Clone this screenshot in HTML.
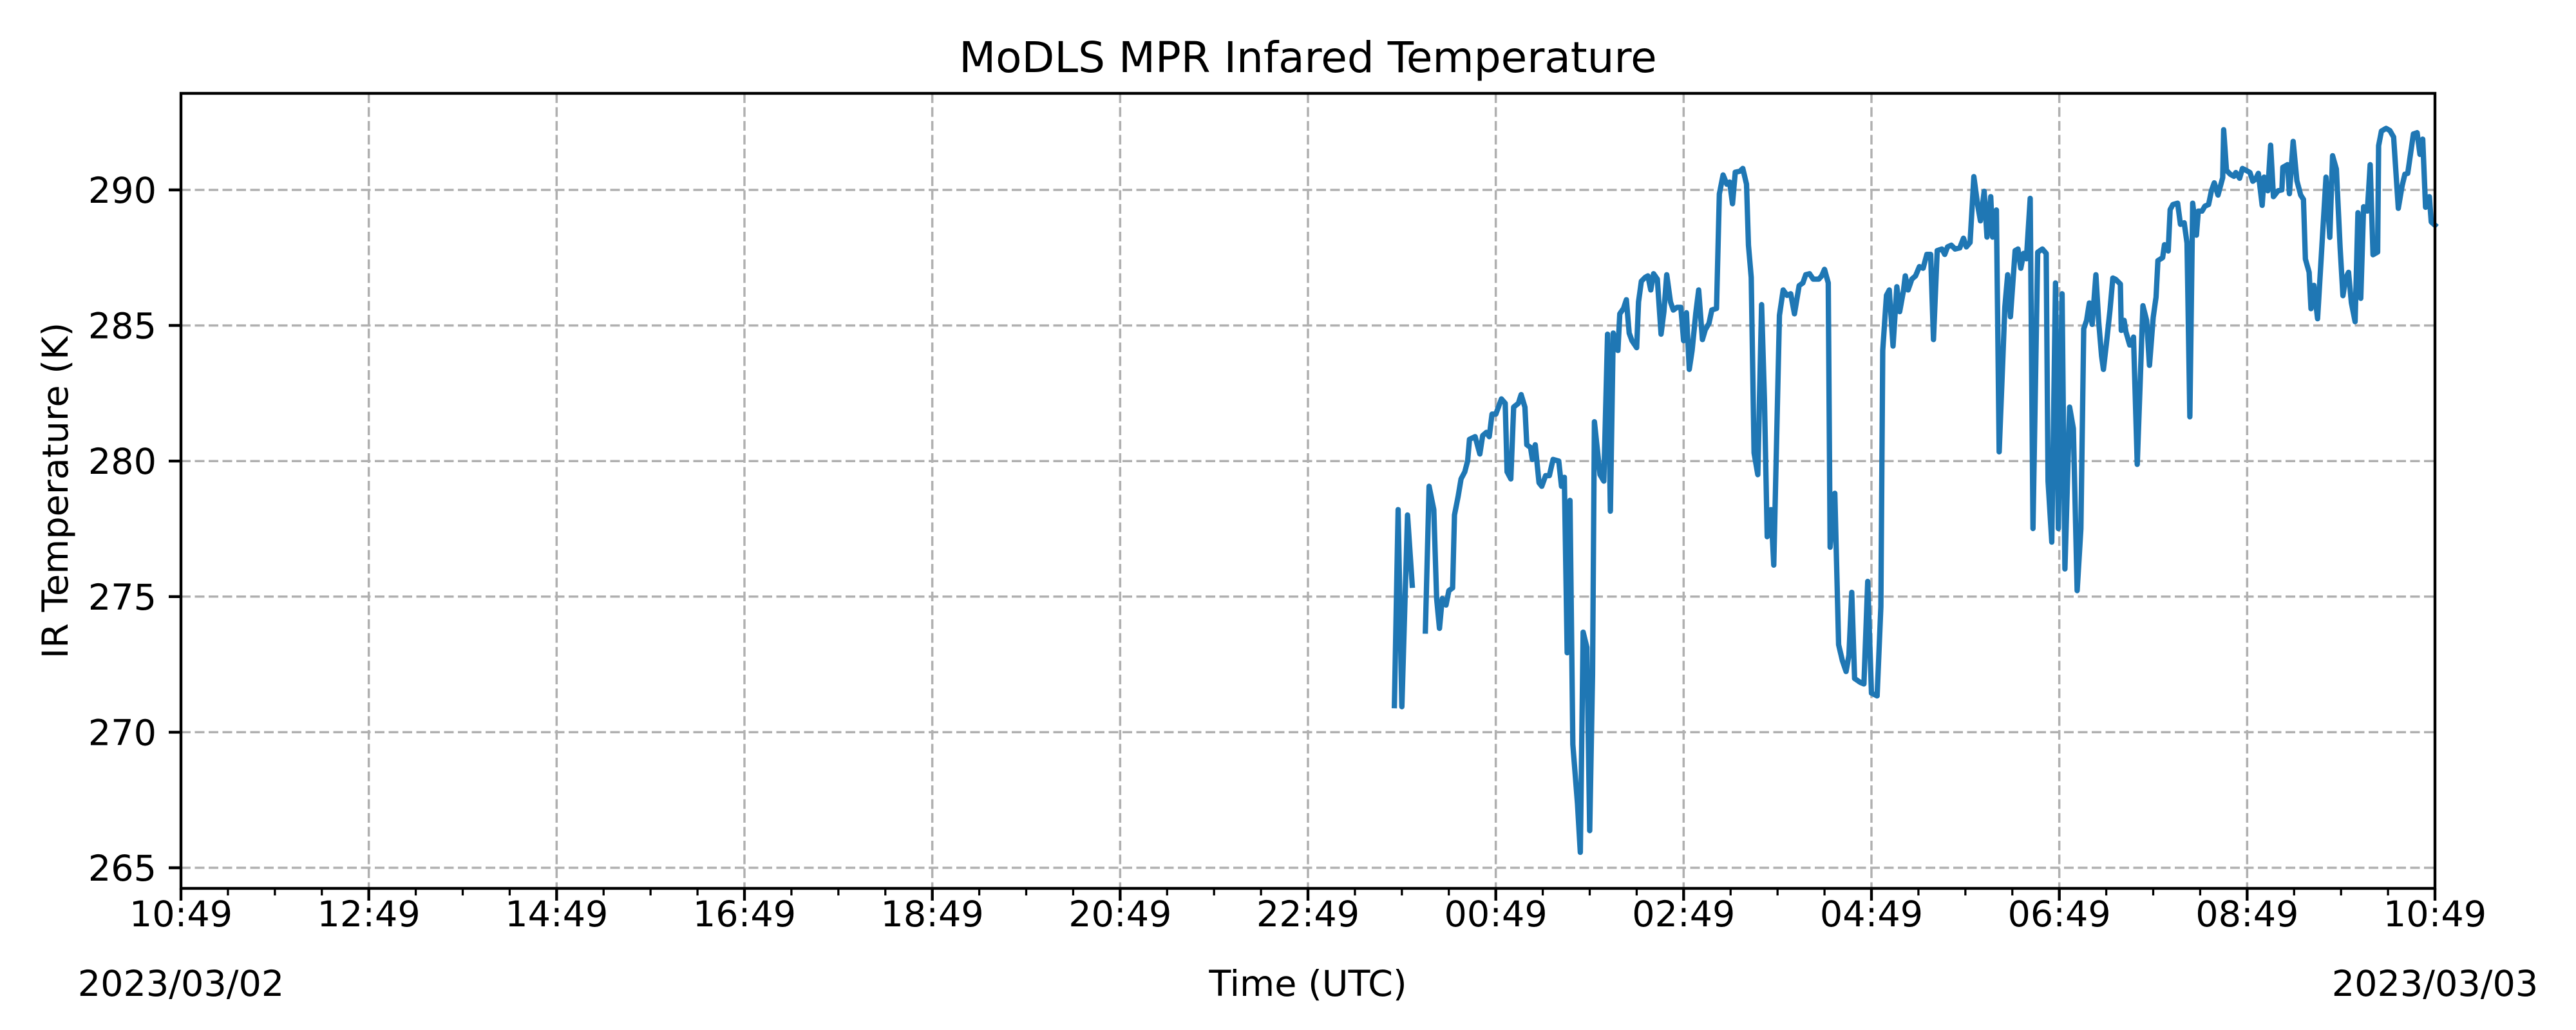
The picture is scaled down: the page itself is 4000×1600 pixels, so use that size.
<!DOCTYPE html>
<html><head><meta charset="utf-8"><style>
html,body{margin:0;padding:0;background:#fff;}
svg{display:block;font-family:"DejaVu Sans","Liberation Sans",sans-serif;}
</style></head><body>
<svg id="chart" width="4000" height="1600" viewBox="0 0 4000 1600" xmlns="http://www.w3.org/2000/svg">
<rect width="4000" height="1600" fill="#fff"/>
<text x="2031" y="112" font-size="66" text-anchor="middle" fill="#000">MoDLS MPR Infared Temperature</text>
<g id="grid"></g>
<g id="series"></g>
<rect x="281" y="145" width="3500" height="1235" fill="none" stroke="#000" stroke-width="4.4"/>
<g id="axes"></g>
<text x="2031" y="1547" font-size="55.6" text-anchor="middle">Time (UTC)</text>
<text x="281" y="1547" font-size="55.6" text-anchor="middle">2023/03/02</text>
<text x="3781" y="1547" font-size="55.6" text-anchor="middle">2023/03/03</text>
<text x="0" y="0" font-size="55.6" text-anchor="middle" transform="translate(105,762) rotate(-90)">IR Temperature (K)</text>
</svg>
<script>
// hours since 2023/03/02 10:49 UTC
const hours = [12.92,12.96,13.00,13.06,13.11,null,13.25,13.29,13.34,13.37,13.40,13.43,13.47,13.50,13.54,13.56,13.60,13.63,13.67,13.70,13.72,13.78,13.83,13.86,13.90,13.93,13.96,14.00,14.06,14.10,14.12,14.16,14.19,14.24,14.27,14.31,14.33,14.37,14.39,14.42,14.46,14.49,14.53,14.57,14.61,14.67,14.70,14.73,14.76,14.79,14.82,14.87,14.90,14.93,14.97,15.00,15.03,15.05,15.11,15.15,15.19,15.22,15.25,15.30,15.32,15.36,15.39,15.42,15.45,15.50,15.52,15.55,15.59,15.62,15.65,15.68,15.72,15.76,15.79,15.82,15.86,15.89,15.93,15.97,16.00,16.03,16.06,16.09,16.13,16.16,16.20,16.23,16.27,16.30,16.35,16.38,16.42,16.46,16.49,16.52,16.55,16.60,16.63,16.67,16.69,16.72,16.75,16.79,16.83,16.86,16.89,16.93,16.96,17.02,17.06,17.10,17.14,17.18,17.23,17.27,17.30,17.34,17.38,17.44,17.47,17.50,17.54,17.56,17.61,17.65,17.69,17.73,17.76,17.79,17.82,17.88,17.92,17.96,18.00,18.06,18.10,18.12,18.16,18.19,18.23,18.27,18.30,18.34,18.36,18.39,18.43,18.47,18.51,18.55,18.59,18.63,18.66,18.70,18.75,18.78,18.81,18.85,18.89,18.94,18.98,19.01,19.05,19.09,19.13,19.16,19.20,19.23,19.27,19.29,19.33,19.36,19.40,19.42,19.45,19.48,19.53,19.56,19.59,19.62,19.65,19.69,19.72,19.77,19.82,19.86,19.88,19.92,19.96,19.99,20.03,20.06,20.11,20.15,20.19,20.23,20.26,20.29,20.32,20.35,20.39,20.42,20.45,20.47,20.50,20.54,
20.57,20.60,20.65,20.66,20.69,20.71,20.75,20.77,20.79,20.83,20.89,20.93,20.96,21.00,21.03,21.05,21.10,21.12,21.16,21.18,21.21,21.26,21.29,21.33,21.36,21.39,21.42,21.46,21.48,21.52,21.55,21.59,21.62,21.65,21.69,21.74,21.75,21.78,21.82,21.86,21.88,21.92,21.95,21.99,22.03,22.06,22.09,22.12,22.16,22.18,22.22,22.25,22.28,22.33,22.37,22.38,22.43,22.45,22.49,22.53,22.57,22.60,22.62,22.66,22.68,22.71,22.75,22.84,22.88,22.91,22.95,22.99,23.02,23.05,23.08,23.11,23.15,23.18,23.21,23.24,23.28,23.31,23.34,23.39,23.40,23.43,23.48,23.52,23.56,23.61,23.65,23.68,23.71,23.77,23.81,23.84,23.87,23.90,23.94,23.96,24.00];
const temps = [270.98,278.21,270.94,278.01,275.42,null,273.73,279.07,278.21,274.93,273.83,274.93,274.69,275.22,275.32,278.01,278.71,279.34,279.60,280.00,280.80,280.90,280.26,280.94,281.06,280.90,281.73,281.73,282.29,282.13,279.60,279.34,281.99,282.13,282.45,281.99,280.60,280.50,280.06,280.60,279.20,279.07,279.46,279.46,280.06,280.00,279.07,279.40,272.93,278.55,269.55,267.36,265.57,273.69,273.13,266.37,272.14,281.45,279.50,279.26,284.68,278.15,284.72,284.08,285.43,285.63,285.95,284.72,284.44,284.18,285.87,286.63,286.77,286.83,286.31,286.91,286.71,284.68,285.51,286.87,285.87,285.57,285.67,285.67,284.44,285.47,283.38,284.08,285.47,286.31,284.48,284.84,285.08,285.57,285.63,289.85,290.55,290.21,290.29,289.49,290.65,290.69,290.79,290.21,287.96,286.77,280.30,279.50,285.77,282.29,277.21,278.21,276.16,285.37,286.31,286.11,286.17,285.43,286.47,286.57,286.87,286.91,286.71,286.71,286.83,287.07,286.57,276.82,278.81,273.23,272.64,272.24,272.84,275.16,271.98,271.84,271.78,275.56,271.44,271.34,274.63,284.08,286.11,286.31,284.24,286.43,285.51,286.27,286.83,286.31,286.71,286.83,287.17,287.11,287.62,287.62,284.48,287.76,287.82,287.62,287.90,287.96,287.82,287.86,288.22,287.90,288.06,290.49,289.46,288.86,289.95,288.26,289.75,288.26,289.26,280.34,283.88,285.67,286.87,285.32,287.76,287.82,287.11,287.66,287.46,289.69,277.51,287.70,287.82,287.66,279.26,277.01,286.57,277.51,286.17,276.02,281.99,281.20,275.22,277.51,284.88,285.18,285.83,285.04,286.87,285.12,283.88,283.38,284.28,285.57,
286.75,286.70,286.53,284.82,285.19,284.76,284.28,284.28,284.57,279.88,285.73,285.19,283.53,285.30,286.05,287.39,287.50,287.98,287.75,289.27,289.46,289.51,288.73,288.79,288.04,281.63,289.51,288.33,289.22,289.22,289.40,289.46,289.97,290.26,289.81,290.45,292.22,290.72,290.58,290.50,290.64,290.43,290.79,290.72,290.64,290.32,290.40,290.61,289.43,290.47,289.97,291.65,289.75,289.97,290.00,290.83,290.93,289.86,291.79,290.34,289.81,289.65,287.45,286.96,285.62,286.48,285.25,290.47,288.25,291.26,290.77,287.88,286.10,286.75,286.96,285.84,285.14,289.16,286.00,289.38,289.22,290.93,287.61,287.71,291.63,292.17,292.27,292.19,291.95,289.32,290.15,290.58,290.61,292.06,292.11,291.31,291.87,289.36,289.75,288.82,288.70];
const xTickLabels = ["10:49","12:49","14:49","16:49","18:49","20:49","22:49","00:49","02:49","04:49","06:49","08:49","10:49"];
const yTickValues = [265,270,275,280,285,290];

const NS = "http://www.w3.org/2000/svg";
const L=281,R=3781,T=145,B=1380;
const xScale = h => L + (h/24)*(R-L);
const yScale = v => 1348 - (v-265)*(1053/25);
function mk(tag, attrs, parent){const e=document.createElementNS(NS,tag);for(const k in attrs)e.setAttribute(k,attrs[k]);parent.appendChild(e);return e;}
const grid=document.getElementById('grid'), axes=document.getElementById('axes'), series=document.getElementById('series');

xTickLabels.forEach((lab,i)=>{
  const x = xScale(i*2);
  if(i>0 && i<xTickLabels.length-1){
    const g = mk('line',{x1:x,x2:x,y1:T,y2:B,stroke:'#b0b0b0','stroke-width':3.5,'stroke-dasharray':'15,6.5'},grid);
    
    
  }
  const t = mk('line',{x1:x,x2:x,y1:B,y2:B+19,stroke:'#000','stroke-width':4.4},axes);
  
  
  const tx = mk('text',{x:x,y:1439,'font-size':55.6,'text-anchor':'middle'},axes);
  tx.textContent = lab;
  
  
});
for(let m=0;m<=48;m++){
  if(m%4===0) continue;
  const x = xScale(m*0.5);
  const t = mk('line',{x1:x,x2:x,y1:B,y2:B+11,stroke:'#000','stroke-width':3.3},axes);
  
  
}
yTickValues.forEach(v=>{
  const y = yScale(v);
  const g = mk('line',{x1:L,x2:R,y1:y,y2:y,stroke:'#b0b0b0','stroke-width':3.5,'stroke-dasharray':'15,6.5'},grid);
  
  
  const t = mk('line',{x1:L-19,x2:L,y1:y,y2:y,stroke:'#000','stroke-width':4.4},axes);
  
  
  const tx = mk('text',{x:L-38,y:y+20,'font-size':55.6,'text-anchor':'end'},axes);
  tx.textContent = String(v);
  
  
});

let d='', pen=false;
for(let i=0;i<hours.length;i++){
  if(hours[i]===null||temps[i]===null){pen=false;continue;}
  d += (pen?'L':'M') + xScale(hours[i]).toFixed(1) + ',' + yScale(temps[i]).toFixed(1);
  pen=true;
}
const p = mk('path',{d:d,fill:'none',stroke:'#1f77b4','stroke-width':8.3,'stroke-linejoin':'round','stroke-linecap':'square'},series);


</script>
</body></html>
